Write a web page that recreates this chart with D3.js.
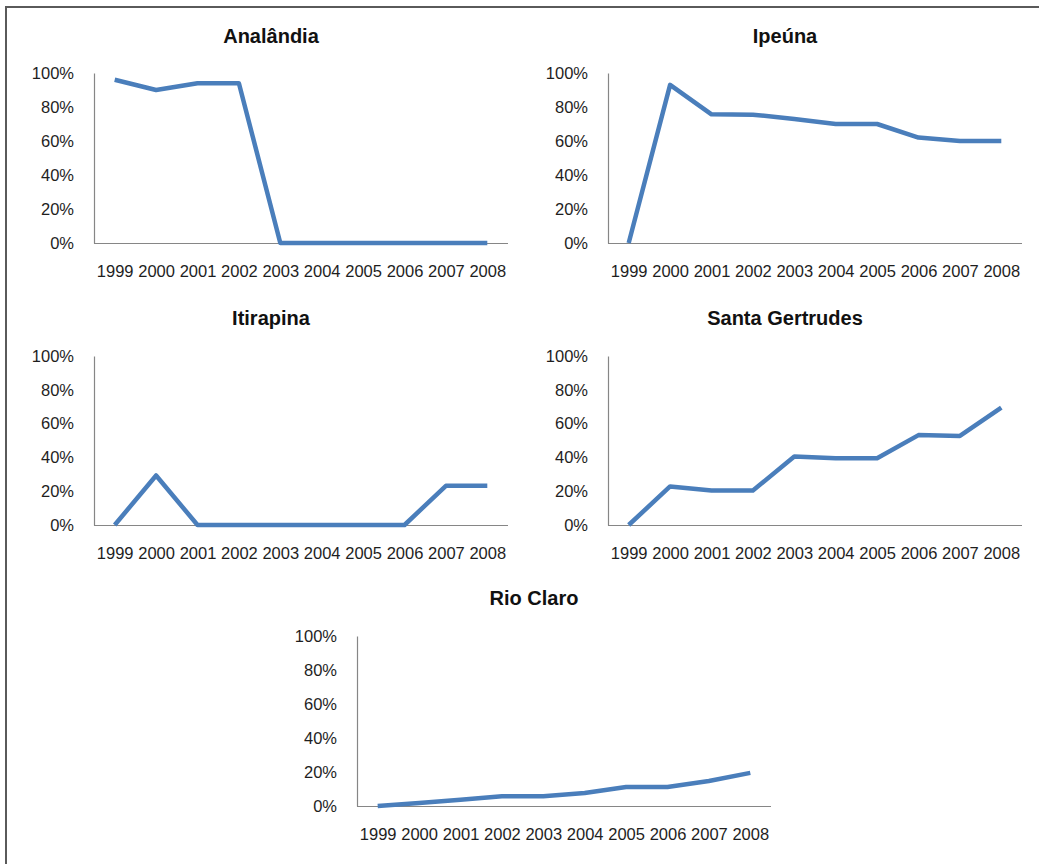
<!DOCTYPE html>
<html>
<head>
<meta charset="utf-8">
<script src="https://cdn.jsdelivr.net/npm/d3@7"></script>
<style>
  html, body { margin: 0; padding: 0; background: #fff; }
  svg { display: block; }
  text { font-family: "Liberation Sans", Arial, sans-serif; }
</style>
</head>
<body>
<svg id="chart" width="1039" height="864"></svg>
<script>
const years = ["1999","2000","2001","2002","2003","2004","2005","2006","2007","2008"];
const yTicks = [0, 0.2, 0.4, 0.6, 0.8, 1.0];

const titles = ["Analândia", "Ipeúna", "Itirapina", "Santa Gertrudes", "Rio Claro"];

const analandia = [0.96, 0.90, 0.94, 0.94, 0, 0, 0, 0, 0, 0];
const ipeuna = [0, 0.93, 0.757, 0.755, 0.73, 0.70, 0.70, 0.62, 0.60, 0.60];
const itirapina = [0, 0.293, 0, 0, 0, 0, 0, 0, 0.232, 0.232];
const santaGertrudes = [0, 0.228, 0.204, 0.204, 0.405, 0.395, 0.395, 0.532, 0.527, 0.695];
const rioClaro = [0, 0.018, 0.037, 0.057, 0.057, 0.077, 0.112, 0.112, 0.147, 0.195];

const seriesList = [analandia, ipeuna, itirapina, santaGertrudes, rioClaro];

// layout: plot area left x, top y, bottom y, width
const layout = [
  { x: 94,  top: 73,  bottom: 243, w: 414, titleY: 36 },
  { x: 608, top: 73,  bottom: 243, w: 414, titleY: 36 },
  { x: 94,  top: 356, bottom: 525, w: 414, titleY: 318 },
  { x: 608, top: 356, bottom: 525, w: 414, titleY: 318 },
  { x: 357, top: 636, bottom: 806, w: 414, titleY: 598 }
];

const svg = d3.select("#chart");

// outer frame (left and top edges)
svg.append("path")
  .attr("d", "M6,864 L6,7 L1039,7")
  .attr("fill", "none")
  .attr("stroke", "#5a5a5a")
  .attr("stroke-width", 2);

const lineColor = "#4a7ebb";
const axisColor = "#868686";
const textColor = "#1e1e1e";

layout.forEach((L, i) => {
  const g = svg.append("g");
  const x = d3.scalePoint().domain(years).range([L.x, L.x + L.w]).padding(0.5);
  const y = d3.scaleLinear().domain([0, 1]).range([L.bottom, L.top]);

  // title
  g.append("text")
    .attr("x", L.x + L.w / 2 - 30)
    .attr("y", L.titleY)
    .attr("dy", "0.35em")
    .attr("text-anchor", "middle")
    .attr("font-size", 20)
    .attr("font-weight", "bold")
    .attr("fill", "#111")
    .text(titles[i]);

  // y axis
  const yAxis = d3.axisLeft(y).tickValues(yTicks).tickSize(0).tickPadding(20)
    .tickFormat(d => Math.round(d * 100) + "%");
  const ya = g.append("g").attr("transform", `translate(${L.x},0)`).call(yAxis);
  ya.select(".domain").attr("stroke", axisColor).attr("stroke-width", 1.2);
  ya.selectAll("text").attr("font-size", 16.5).attr("fill", textColor)
    .attr("font-family", "'Liberation Sans', Arial, sans-serif");

  // x axis
  const xAxis = d3.axisBottom(x).tickSize(0).tickPadding(22);
  const xa = g.append("g").attr("transform", `translate(0,${L.bottom})`).call(xAxis);
  xa.select(".domain").attr("stroke", axisColor).attr("stroke-width", 1.2)
    .attr("d", `M${L.x},0.5H${L.x + L.w}`);
  xa.selectAll("text").attr("font-size", 16.5).attr("fill", textColor)
    .attr("font-family", "'Liberation Sans', Arial, sans-serif");

  // line
  const line = d3.line().x((d, j) => x(years[j])).y(d => y(d));
  g.append("path")
    .datum(seriesList[i])
    .attr("d", line)
    .attr("fill", "none")
    .attr("stroke", lineColor)
    .attr("stroke-width", 4.5)
    .attr("stroke-linejoin", "round")
    .attr("stroke-linecap", "butt");
});
</script>
</body>
</html>
